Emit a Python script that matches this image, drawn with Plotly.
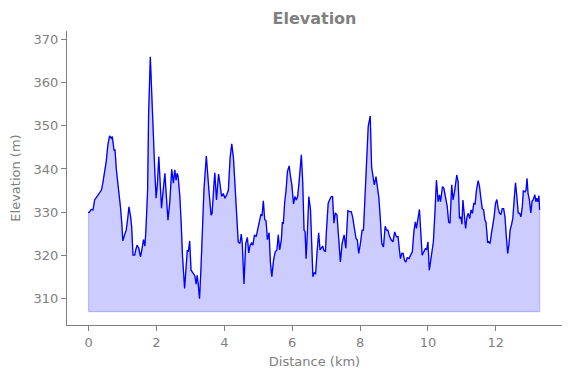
import plotly.graph_objects as go

distance_km = [
    0.00, 0.01, 0.08, 0.13, 0.18, 0.25, 0.33, 0.38, 0.42, 0.47, 0.52, 0.57, 0.62, 0.67, 0.70, 0.75,
    0.78, 0.82, 0.87, 0.94, 0.98, 1.01, 1.06, 1.11, 1.16, 1.19, 1.24, 1.27, 1.31, 1.36, 1.39, 1.43,
    1.48, 1.53, 1.57, 1.62, 1.66, 1.69, 1.74, 1.77, 1.82, 1.86, 1.90, 1.95, 1.99, 2.03, 2.07, 2.11,
    2.15, 2.20, 2.25, 2.28, 2.34, 2.39, 2.45, 2.50, 2.54, 2.58, 2.61, 2.64, 2.69, 2.73, 2.77, 2.83,
    2.87, 2.91, 2.94, 2.98, 3.02, 3.08, 3.13, 3.17, 3.20, 3.23, 3.27, 3.31, 3.35, 3.40, 3.47, 3.51,
    3.55, 3.61, 3.64, 3.69, 3.72, 3.77, 3.83, 3.87, 3.92, 3.97, 4.02, 4.07, 4.12, 4.17, 4.22, 4.27,
    4.32, 4.37, 4.41, 4.46, 4.50, 4.53, 4.58, 4.63, 4.68, 4.72, 4.76, 4.81, 4.84, 4.89, 4.94, 4.99,
    5.03, 5.08, 5.11, 5.15, 5.19, 5.23, 5.27, 5.32, 5.36, 5.40, 5.45, 5.50, 5.55, 5.59, 5.63, 5.68,
    5.71, 5.74, 5.78, 5.82, 5.86, 5.91, 5.95, 5.99, 6.04, 6.08, 6.12, 6.16, 6.20, 6.24, 6.27, 6.31,
    6.35, 6.38, 6.41, 6.45, 6.49, 6.54, 6.58, 6.61, 6.65, 6.69, 6.73, 6.78, 6.82, 6.86, 6.90, 6.93,
    6.98, 7.01, 7.06, 7.10, 7.15, 7.19, 7.23, 7.27, 7.32, 7.37, 7.42, 7.47, 7.53, 7.58, 7.64, 7.69,
    7.74, 7.78, 7.83, 7.88, 7.92, 7.96, 8.01, 8.06, 8.10, 8.15, 8.19, 8.24, 8.30, 8.34, 8.39, 8.42,
    8.47, 8.51, 8.55, 8.59, 8.64, 8.69, 8.74, 8.78, 8.82, 8.87, 8.92, 8.97, 9.02, 9.07, 9.12, 9.16,
    9.19, 9.23, 9.27, 9.31, 9.35, 9.39, 9.44, 9.49, 9.54, 9.59, 9.63, 9.66, 9.70, 9.75, 9.78, 9.83,
    9.88, 9.93, 9.96, 10.00, 10.04, 10.08, 10.13, 10.16, 10.21, 10.25, 10.30, 10.34, 10.37, 10.43, 10.47, 10.52,
    10.57, 10.61, 10.65, 10.70, 10.74, 10.79, 10.85, 10.89, 10.93, 10.97, 11.00, 11.03, 11.08, 11.11, 11.15, 11.19,
    11.23, 11.27, 11.31, 11.35, 11.39, 11.43, 11.48, 11.52, 11.56, 11.60, 11.64, 11.68, 11.71, 11.76, 11.79, 11.83,
    11.87, 11.91, 11.95, 11.99, 12.03, 12.07, 12.11, 12.15, 12.19, 12.23, 12.27, 12.31, 12.35, 12.39, 12.42, 12.46,
    12.50, 12.54, 12.58, 12.62, 12.66, 12.70, 12.74, 12.78, 12.81, 12.86, 12.89, 12.92, 12.95, 12.99, 13.03, 13.07,
    13.10, 13.15, 13.18, 13.21, 13.24, 13.27, 13.29,
]

elevation_m = [
    330.1, 329.8, 330.6, 330.5, 332.8, 333.6, 334.6, 335.1, 336.7, 339.0, 341.7, 345.6, 347.7, 347.1, 347.5, 344.4,
    344.4, 339.8, 336.7, 331.2, 327.4, 323.3, 324.7, 325.8, 328.9, 331.2, 328.9, 326.6, 320.0, 320.0, 321.2, 322.3,
    321.6, 319.6, 321.2, 323.6, 322.1, 325.8, 335.1, 352.9, 366.0, 356.8, 346.7, 339.8, 333.2, 336.7, 342.9, 336.7,
    330.9, 335.1, 339.0, 335.1, 328.1, 332.0, 339.9, 336.7, 339.8, 337.4, 339.0, 338.2, 333.6, 327.4, 319.6, 312.3,
    318.1, 321.2, 320.8, 323.3, 316.5, 315.7, 315.3, 313.3, 315.3, 313.4, 309.9, 316.5, 324.3, 335.1, 343.0, 338.2,
    334.7, 329.3, 329.7, 335.9, 339.1, 332.8, 338.8, 336.7, 333.6, 334.3, 333.2, 334.0, 335.1, 342.5, 345.8, 342.5,
    335.9, 330.5, 323.1, 322.7, 324.9, 322.7, 313.3, 322.7, 324.1, 320.5, 322.3, 322.9, 322.3, 324.7, 324.3, 326.2,
    328.1, 329.5, 329.1, 332.6, 328.3, 328.0, 323.6, 325.2, 318.1, 315.0, 318.8, 320.8, 321.2, 324.7, 321.2, 323.5,
    327.5, 327.4, 332.4, 335.1, 339.4, 340.7, 338.2, 336.3, 331.9, 333.6, 332.8, 333.6, 336.7, 340.2, 343.3, 337.0,
    325.8, 325.4, 319.2, 325.8, 333.6, 330.5, 322.7, 315.0, 315.9, 315.7, 320.4, 325.2, 321.2, 321.6, 322.1, 321.2,
    320.8, 325.8, 332.0, 332.8, 333.6, 333.6, 327.4, 329.8, 329.3, 323.9, 318.4, 322.7, 324.7, 321.6, 330.3, 330.1,
    330.1, 328.9, 326.6, 323.9, 323.5, 320.4, 322.7, 325.8, 325.8, 334.3, 339.8, 349.8, 352.3, 340.5, 337.8, 336.3,
    338.2, 336.3, 333.6, 329.3, 322.7, 321.9, 326.7, 325.8, 325.8, 324.3, 323.5, 323.1, 325.4, 324.3, 324.3, 321.2,
    319.2, 320.4, 320.4, 318.8, 318.4, 319.4, 319.2, 320.0, 320.8, 325.8, 327.7, 326.2, 328.3, 330.6, 326.6, 320.0,
    320.8, 321.6, 321.2, 323.1, 316.5, 318.8, 320.5, 323.1, 330.5, 337.4, 332.4, 334.0, 332.4, 335.9, 335.5, 333.6,
    331.2, 327.7, 327.4, 336.3, 332.8, 335.1, 338.6, 337.0, 328.5, 328.9, 327.2, 332.8, 328.9, 326.2, 328.9, 329.7,
    328.5, 330.5, 329.7, 332.0, 331.9, 335.1, 337.3, 335.9, 333.2, 330.8, 330.5, 328.1, 327.7, 322.9, 323.1, 322.7,
    325.0, 326.6, 328.9, 332.0, 332.9, 330.8, 329.7, 329.5, 330.8, 330.8, 328.9, 324.3, 320.4, 322.7, 325.8, 327.0,
    328.5, 332.8, 336.8, 333.6, 329.8, 329.7, 328.9, 331.2, 334.9, 334.7, 335.1, 337.8, 334.3, 332.8, 329.8, 332.6,
    332.8, 334.0, 332.4, 333.2, 332.4, 333.8, 330.5,
]

x_ticks = [0, 2, 4, 6, 8, 10, 12]
y_ticks = [310, 320, 330, 340, 350, 360, 370]

base = min(elevation_m) - 3

grey = "#808080"
font_family = "DejaVu Sans"

fig = go.Figure()
fig.add_trace(go.Scatter(
    x=[distance_km[0]] + distance_km + [distance_km[-1], distance_km[0]],
    y=[base] + elevation_m + [base, base],
    fill="toself",
    fillcolor="rgba(0,0,255,0.2)",
    line=dict(color="rgba(0,0,255,0.2)", width=1.2),
    mode="lines",
    hoverinfo="skip",
    showlegend=False,
))
fig.add_trace(go.Scatter(
    x=distance_km, y=elevation_m,
    mode="lines",
    line=dict(color="#0000ff", width=1.3),
    showlegend=False,
))

axis_common = dict(
    showline=True, linecolor="#808080", linewidth=1,
    ticks="outside", ticklen=5, tickcolor="#808080", tickwidth=1,
    showgrid=False, zeroline=False, automargin=False,
    tickfont=dict(family=font_family, size=13, color=grey),
)

fig.update_layout(
    width=563, height=370,
    margin=dict(l=59, r=9, t=23, b=53),
    paper_bgcolor="white", plot_bgcolor="white",
    title=dict(text="<b>Elevation</b>", x=0.5, xanchor="center", y=0.973, yanchor="middle",
               xref="paper", yref="container", automargin=False,
               font=dict(family=font_family, size=16, color=grey)),
    xaxis=dict(range=[-0.635, 13.95], tickvals=x_ticks,
               title=dict(text="Distance (km)", font=dict(family=font_family, size=13, color=grey), standoff=8),
               **axis_common),
    yaxis=dict(range=[303.8, 372], tickvals=y_ticks,
               title=dict(text="Elevation (m)", font=dict(family=font_family, size=13, color=grey), standoff=10),
               **axis_common),
    font=dict(family=font_family),
)

fig.write_html("out.html")
